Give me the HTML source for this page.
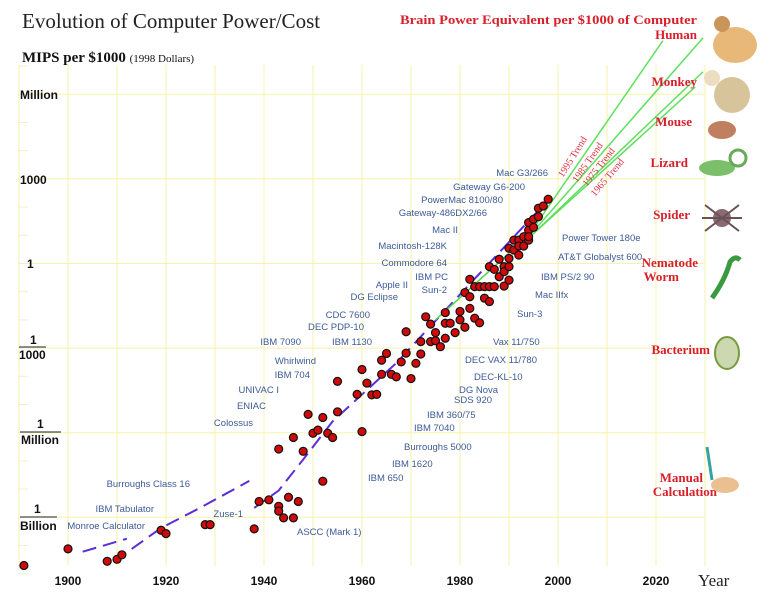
<!DOCTYPE html>
<html><head><meta charset="utf-8"><style>
html,body{margin:0;padding:0;background:#fff;}
svg{display:block;}
.lbl{font-family:"Liberation Sans",sans-serif;font-size:9.5px;fill:#3d5a96;}
.red{font-family:"Liberation Serif",serif;font-weight:bold;fill:#d8202a;font-size:13px;}
.ax{font-family:"Liberation Sans",sans-serif;font-weight:bold;font-size:12px;fill:#111;}
</style></head><body>
<svg id="chart" width="773" height="599" viewBox="0 0 773 599">
<text x="22" y="28" font-family="Liberation Serif,serif" font-size="21" fill="#222">Evolution of Computer Power/Cost</text>
<text x="22" y="62" font-family="Liberation Serif,serif" font-size="15" font-weight="bold" fill="#111">MIPS per $1000 <tspan font-weight="normal" font-size="11">(1998 Dollars)</tspan></text>
<g id="grid"></g>
<g>
<text class="ax" x="20" y="99">Million</text>
<text class="ax" x="20" y="184">1000</text>
<text class="ax" x="27" y="268">1</text>
<text class="ax" x="30" y="344">1</text><line x1="19" y1="347" x2="46" y2="347" stroke="#222"/><text class="ax" x="19" y="359">1000</text>
<text class="ax" x="37" y="428">1</text><line x1="20" y1="432" x2="61" y2="432" stroke="#222"/><text class="ax" x="21" y="444">Million</text>
<text class="ax" x="34" y="513">1</text><line x1="20" y1="517" x2="57" y2="517" stroke="#222"/><text class="ax" x="20" y="530">Billion</text>
</g>
<g id="xlabels"></g>
<text x="698" y="586" font-family="Liberation Serif,serif" font-size="17" fill="#222">Year</text>
<g id="curves"></g>
<g id="dots"></g>
<g>
<g text-anchor="end">
<text class="lbl" x="548" y="176">Mac G3/266</text>
<text class="lbl" x="525" y="190">Gateway G6-200</text>
<text class="lbl" x="503" y="203">PowerMac 8100/80</text>
<text class="lbl" x="487" y="216">Gateway-486DX2/66</text>
<text class="lbl" x="458" y="233">Mac II</text>
<text class="lbl" x="447" y="249">Macintosh-128K</text>
<text class="lbl" x="447" y="266">Commodore 64</text>
<text class="lbl" x="448" y="280">IBM PC</text>
<text class="lbl" x="447" y="293">Sun-2</text>
<text class="lbl" x="408" y="288">Apple II</text>
<text class="lbl" x="398" y="300">DG Eclipse</text>
<text class="lbl" x="370" y="318">CDC 7600</text>
<text class="lbl" x="364" y="330">DEC PDP-10</text>
<text class="lbl" x="372" y="345">IBM 1130</text>
<text class="lbl" x="301" y="345">IBM 7090</text>
<text class="lbl" x="316" y="364">Whirlwind</text>
<text class="lbl" x="310" y="378">IBM 704</text>
<text class="lbl" x="279" y="393">UNIVAC I</text>
<text class="lbl" x="266" y="409">ENIAC</text>
<text class="lbl" x="253" y="426">Colossus</text>
<text class="lbl" x="190" y="487">Burroughs Class 16</text>
<text class="lbl" x="154" y="512">IBM Tabulator</text>
<text class="lbl" x="145" y="529">Monroe Calculator</text>
<text class="lbl" x="243" y="517">Zuse-1</text>
</g>
<text class="lbl" x="297" y="535">ASCC (Mark 1)</text>
<text class="lbl" x="368" y="481">IBM 650</text>
<text class="lbl" x="392" y="467">IBM 1620</text>
<text class="lbl" x="404" y="450">Burroughs 5000</text>
<text class="lbl" x="414" y="431">IBM 7040</text>
<text class="lbl" x="427" y="418">IBM 360/75</text>
<text class="lbl" x="454" y="403">SDS 920</text>
<text class="lbl" x="459" y="393">DG Nova</text>
<text class="lbl" x="474" y="380">DEC-KL-10</text>
<text class="lbl" x="465" y="363">DEC VAX 11/780</text>
<text class="lbl" x="493" y="345">Vax 11/750</text>
<text class="lbl" x="517" y="317">Sun-3</text>
<text class="lbl" x="535" y="298">Mac IIfx</text>
<text class="lbl" x="541" y="280">IBM PS/2 90</text>
<text class="lbl" x="558" y="260">AT&amp;T Globalyst 600</text>
<text class="lbl" x="562" y="241">Power Tower 180e</text>
</g>
<g font-family="Liberation Serif,serif" font-size="10" fill="#e03040">
<text transform="translate(563,178) rotate(-58)">1995 Trend</text>
<text transform="translate(577,183) rotate(-55)">1985 Trend</text>
<text transform="translate(587,187) rotate(-52)">1975 Trend</text>
<text transform="translate(595,197) rotate(-50)">1965 Trend</text>
</g>
<g>
<text class="red" x="400" y="24" font-size="14" textLength="297" lengthAdjust="spacingAndGlyphs">Brain Power Equivalent per $1000 of Computer</text>
<g text-anchor="end">
<text class="red" x="697" y="39">Human</text>
<text class="red" x="697" y="86">Monkey</text>
<text class="red" x="692" y="126">Mouse</text>
<text class="red" x="688" y="167">Lizard</text>
<text class="red" x="690" y="219">Spider</text>
<text class="red" x="698" y="267">Nematode</text>
<text class="red" x="679" y="281">Worm</text>
<text class="red" x="710" y="354">Bacterium</text>
<text class="red" x="703" y="482">Manual</text>
<text class="red" x="717" y="496">Calculation</text>
</g>
</g>
<g>
<ellipse cx="735" cy="45" rx="22" ry="18" fill="#e8b878"/><circle cx="722" cy="24" r="8" fill="#c9955a"/>
<ellipse cx="732" cy="95" rx="18" ry="18" fill="#d8c49a"/><circle cx="712" cy="78" r="8" fill="#ecdcc0"/>
<ellipse cx="722" cy="130" rx="14" ry="9" fill="#c08060"/>
<ellipse cx="717" cy="168" rx="18" ry="8" fill="#7cbf6a"/><circle cx="738" cy="158" r="8" fill="none" stroke="#6aa85a" stroke-width="3"/>
<circle cx="722" cy="218" r="9" fill="#8a6a70"/><g stroke="#6a5058" stroke-width="2"><line x1="705" y1="205" x2="739" y2="231"/><line x1="705" y1="231" x2="739" y2="205"/><line x1="702" y1="218" x2="742" y2="218"/></g>
<path d="M712 298 Q725 280 730 262 Q735 255 740 260" fill="none" stroke="#3a9a40" stroke-width="5"/>
<ellipse cx="727" cy="353" rx="12" ry="16" fill="#cbd8b0" stroke="#7a9a40" stroke-width="2"/>
<line x1="712" y1="480" x2="707" y2="447" stroke="#3aa0a0" stroke-width="3"/><ellipse cx="725" cy="485" rx="14" ry="8" fill="#eac090"/>
</g>
<script>
var years=[1891,1900,1908,1910,1911,1919,1920,1928,1929,1938,1939,1941,1943,1943,1944,1945,1946,1947,1943,1946,1948,1949,1950,1951,1952,1952,1953,1954,1955,1955,1959,1960,1960,1961,1962,1963,1964,1964,1965,1966,1967,1968,1969,1969,1970,1971,1972,1972,1973,1974,1974,1975,1975,1976,1977,1977,1977,1978,1979,1980,1980,1981,1981,1982,1982,1982,1983,1983,1984,1984,1985,1985,1986,1986,1986,1987,1987,1988,1988,1989,1989,1989,1990,1990,1990,1990,1991,1991,1992,1992,1992,1993,1993,1994,1994,1994,1994,1995,1995,1996,1996,1997,1998];
var logMips=[-10.71,-10.12,-10.56,-10.49,-10.33,-9.46,-9.58,-9.26,-9.26,-9.41,-8.44,-8.38,-8.61,-8.78,-9.02,-8.29,-9.02,-8.44,-6.58,-6.17,-6.66,-5.35,-6.02,-5.91,-5.46,-7.72,-6.02,-6.17,-4.18,-5.26,-4.64,-3.76,-5.96,-4.24,-4.66,-4.64,-3.43,-3.93,-3.19,-3.93,-4.02,-3.49,-3.18,-2.42,-4.08,-3.54,-3.21,-2.77,-1.89,-2.15,-2.77,-2.74,-2.45,-2.95,-1.74,-2.12,-2.65,-2.12,-2.45,-1.70,-2.0,-2.26,-1.03,-1.18,-0.56,-1.59,-0.82,-1.94,-2.1,-0.82,-0.82,-1.23,-0.11,-0.82,-1.35,-0.82,-0.21,0.15,-0.47,-0.11,-0.8,-0.29,-0.59,-0.11,0.18,0.54,0.83,0.48,0.30,0.83,0.62,0.95,0.62,0.83,1.19,1.45,0.95,1.57,1.28,1.66,1.96,2.04,2.28];
var xTicks=[1900,1920,1940,1960,1980,2000,2020];
var curveAYears=[1903,1912];var curveALog=[-10.22,-9.76];
var curveBYears=[1913,1919,1927,1937];var curveBLog=[-10.12,-9.38,-8.66,-7.71];
var curveCYears=[1938,1943,1948,1954,1967,1980,1998];var curveCLog=[-8.67,-8.05,-6.95,-5.6,-3.53,-1.1,2.25];
var trendNames=["1995","1985","1975","1965"];
var trendStartYear=[1994,1994,1994,1994];var trendStartLog=[1.0,0.95,0.9,0.9];
var trendEndYear=[2021.4,2029.6,2029.6,2028];var trendEndLog=[7.9,8.0,6.8,6.26];
function X(y){return 68+4.9*(y-1900);}
function Y(l){return 263.5-28.2*l;}
var NS="http://www.w3.org/2000/svg";
function mk(t,a,p){var e=document.createElementNS(NS,t);for(var k in a)e.setAttribute(k,a[k]);p.appendChild(e);return e;}
var grid=document.getElementById('grid');
for(var yr=1890;yr<=2030;yr+=10){var gl=mk('line',{x1:X(yr),x2:X(yr),y1:65,y2:566,stroke:'#f7f3a8','stroke-width':1},grid);

}
for(var l=6;l>=-9;l-=3){var hl=mk('line',{x1:18,x2:X(2030),y1:Y(l),y2:Y(l),stroke:'#f7f3a8','stroke-width':1},grid);

}
for(var l=7;l>=-11;l--){var tk=mk('line',{x1:18,x2:28,y1:Y(l),y2:Y(l),stroke:'#f2eecc','stroke-width':1},grid);

}
var xl=document.getElementById('xlabels');
xTicks.forEach(function(t){var e=mk('text',{x:X(t),y:585,'text-anchor':'middle','class':'ax','font-size':14},xl);e.textContent=t;

});
var cv=document.getElementById('curves');
function poly(ys,ls,st,nm){var pts=ys.map(function(y,i){return X(y)+','+Y(ls[i]);}).join(' ');var p=mk('polyline',Object.assign({points:pts,fill:'none'},st),cv);

}
var dash={stroke:'#5a2ed8','stroke-width':2,'stroke-dasharray':'14,7'};
poly(curveAYears,curveALog,dash,'trend-curve-a');
poly(curveBYears,curveBLog,dash,'trend-curve-b');
poly(curveCYears,curveCLog,dash,'trend-curve-c');
poly([1975,1994],[-2.0,1.0],{stroke:'#4ad84a','stroke-width':1.5},'green-fit');
trendNames.forEach(function(n,i){var e=mk('line',{x1:X(trendStartYear[i]),y1:Y(trendStartLog[i]),x2:X(trendEndYear[i]),y2:Y(trendEndLog[i]),stroke:'#5ee05e','stroke-width':1.5},cv);

});
var dg=document.getElementById('dots');
years.forEach(function(y,i){var c=mk('circle',{cx:X(y),cy:Y(logMips[i]),r:4,fill:'#d00a0a',stroke:'#111','stroke-width':1.2},dg);

});
</script>
</svg>
</body></html>
